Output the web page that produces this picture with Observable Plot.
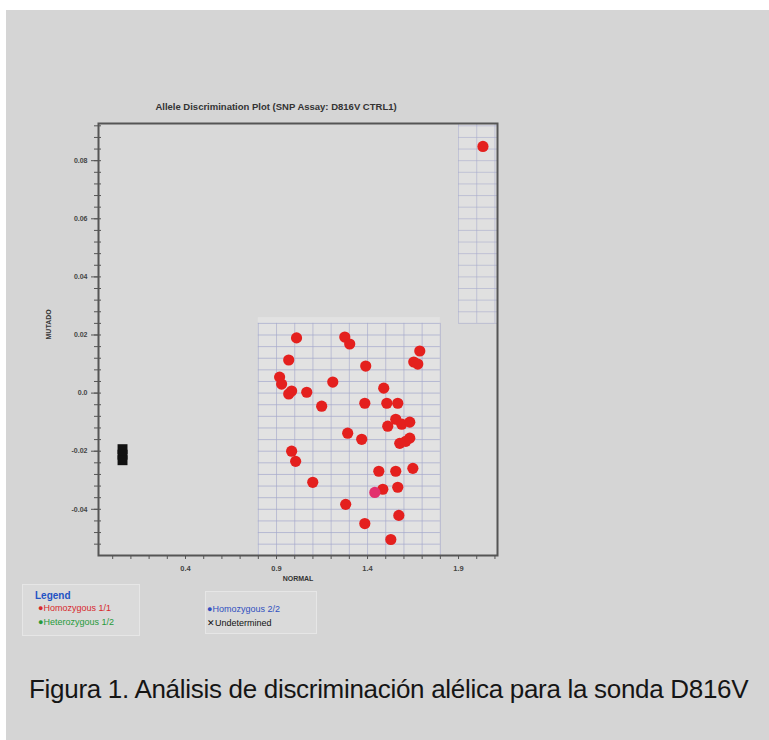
<!DOCTYPE html>
<html><head><meta charset="utf-8">
<script src="https://cdn.jsdelivr.net/npm/d3@7"></script>
<script src="https://cdn.jsdelivr.net/npm/@observablehq/plot@0.6"></script>
<style>
body{margin:0;background:#fff;width:769px;height:740px;overflow:hidden;position:relative;font-family:"Liberation Sans",Arial,sans-serif}
#bg{position:absolute;left:6px;top:10px;width:763px;height:730px;background:#d5d5d5}
#chart{position:absolute;left:0;top:0}
.lgbox{position:absolute;background:#dadada;border:1px solid #e6e6e6}
.lg{position:absolute;font-size:9px;white-space:nowrap;line-height:1}
#caption{position:absolute;left:29px;top:674px;font-size:26px;color:#151515;white-space:nowrap;letter-spacing:-0.3px}
</style></head>
<body>
<div id="bg"></div>
<div id="chart"></div>
<div class="lgbox" style="left:22px;top:584px;width:116px;height:50px"></div>
<div class="lgbox" style="left:205px;top:591px;width:110px;height:41px"></div>
<div class="lg" style="left:35px;top:591px;font-size:10px;font-weight:bold;color:#2353c4">Legend</div>
<div class="lg" style="left:38px;top:604px;color:#d8282c">&#9679;Homozygous 1/1</div>
<div class="lg" style="left:38px;top:618px;color:#279a3a">&#9679;Heterozygous 1/2</div>
<div class="lg" style="left:207px;top:605px;color:#3050c0">&#9679;Homozygous 2/2</div>
<div class="lg" style="left:207px;top:619px;color:#111">&#10005;Undetermined</div>
<div id="caption">Figura 1. Análisis de discriminación alélica para la sonda D816V</div>
<script>
// Allele 1/1 (red) calls: NORMAL (x) and MUTADO (y)
const hom11X = [1.010,1.275,1.302,1.687,1.654,1.676,0.967,1.390,0.917,0.928,1.209,0.983,0.967,1.066,1.489,1.148,1.385,1.506,1.566,1.555,1.588,1.632,1.511,1.291,1.368,1.632,1.610,1.577,0.983,1.005,1.462,1.555,1.649,1.099,1.566,1.484,1.280,1.572,1.385,1.528,2.034];
const hom11Y = [0.0190,0.0193,0.0169,0.0145,0.0107,0.0100,0.0114,0.0093,0.0055,0.0031,0.0038,0.0007,-0.0003,0.0003,0.0017,-0.0045,-0.0035,-0.0035,-0.0035,-0.0090,-0.0107,-0.0100,-0.0114,-0.0138,-0.0159,-0.0155,-0.0166,-0.0173,-0.0200,-0.0235,-0.0269,-0.0269,-0.0259,-0.0307,-0.0324,-0.0331,-0.0383,-0.0421,-0.0449,-0.0504,0.0849];
// one highlighted (pink) well
const selX = [1.440];
const selY = [-0.0342];
// undetermined / no-template controls (black block)
const undX = [0.054,0.054,0.054];
const undY = [-0.0193,-0.0212,-0.0231];

const xTicks = [0.4,0.9,1.4,1.9];
const xTickLabels = ["0.4","0.9","1.4","1.9"];
const yTicks = [0.08,0.06,0.04,0.02,0,-0.02,-0.04];
const yTickLabels = ["0.08","0.06","0.04","0.02","0.0","-0.02","-0.04"];
const xDomain = [-0.078, 2.114];
const yDomain = [-0.0559, 0.0928];

// lighter scanned grid panels
const lowerPanel = {x1:0.8, x2:1.8, y1:-0.0559, y2:0.026};
const upperPanel = {x1:1.9, x2:2.114, y1:0.024, y2:0.0928};

const lowerGridX = d3.range(8,19).map(i=>i/10);
const lowerGridY = d3.range(-13,7).map(i=>i*0.004);
const upperGridX = [1.9,2.0,2.1];
const upperGridY = d3.range(6,24).map(i=>i*0.004);
const yMinor = d3.range(-13,24).map(i=>i*0.004);
const xMinor = d3.range(0,22).map(i=>i/10);

const pts = hom11X.map((x,i)=>({x, y:hom11Y[i]}));
const sel = selX.map((x,i)=>({x, y:selY[i]}));
const und = undX.map((x,i)=>({x, y:undY[i]}));

const gridStroke = "#a5a9cb";
const chart = Plot.plot({
  width:769, height:640,
  marginLeft:98, marginRight:272, marginTop:123, marginBottom:85,
  style:{background:"transparent", fontFamily:"Liberation Sans, Arial, sans-serif", overflow:"visible"},
  x:{domain:xDomain},
  y:{domain:yDomain},
  marks:[
    Plot.frame({fill:"#d9d9d9"}),
    Plot.rect([lowerPanel],{x1:"x1",x2:"x2",y1:"y1",y2:"y2",fill:"#e2e2e2"}),
    Plot.rect([upperPanel],{x1:"x1",x2:"x2",y1:"y1",y2:"y2",fill:"#e0e0e0"}),
    Plot.ruleX(lowerGridX,{y1:lowerPanel.y1,y2:lowerGridY[lowerGridY.length-1],stroke:gridStroke,strokeWidth:0.8,strokeOpacity:0.8}),
    Plot.ruleY(lowerGridY,{x1:lowerPanel.x1,x2:lowerPanel.x2,stroke:gridStroke,strokeWidth:0.8,strokeOpacity:0.9}),
    Plot.ruleX(upperGridX,{y1:upperPanel.y1,y2:upperPanel.y2,stroke:gridStroke,strokeWidth:0.8,strokeOpacity:0.7}),
    Plot.ruleY(upperGridY,{x1:upperPanel.x1,x2:upperPanel.x2,stroke:gridStroke,strokeWidth:0.8,strokeOpacity:0.7}),
    Plot.axisY(yMinor,{tickSize:4,tickFormat:null,text:null,stroke:"#555"}),
    Plot.axisY(yMinor,{anchor:"left",tickSize:-3,tickFormat:null,text:null,stroke:"#555"}),
    Plot.axisY(yTicks,{tickSize:7,tickPadding:4,tickFormat:d=>yTickLabels[yTicks.indexOf(d)],fontSize:7,fontWeight:"bold",fill:"#444",stroke:"#555",label:null}),
    Plot.axisX(xMinor,{tickSize:4,tickFormat:null,text:null,stroke:"#555"}),
    Plot.axisX(xTicks,{tickSize:0,tickPadding:10,tickFormat:d=>xTickLabels[xTicks.indexOf(d)],fontSize:7.5,fontWeight:"bold",fill:"#444",label:null}),
    Plot.frame({stroke:"#555",strokeWidth:2}),
    Plot.text(["MUTADO"],{frameAnchor:"left",dx:-50,rotate:-90,fontSize:7,fontWeight:"bold",fill:"#333"}),
    Plot.text(["NORMAL"],{frameAnchor:"bottom",dy:25,fontSize:7,fontWeight:"bold",fill:"#333"}),
    Plot.text(["Allele Discrimination Plot (SNP Assay: D816V CTRL1)"],{frameAnchor:"top",dy:-20,dx:-22,fontSize:9.5,fontWeight:"bold",fill:"#333"}),
    Plot.dot(und,{x:"x",y:"y",symbol:"square",r:5.6,fill:"#111"}),
    Plot.dot(pts,{x:"x",y:"y",r:5.6,fill:"#e4201e"}),
    Plot.dot(sel,{x:"x",y:"y",r:5.6,fill:"#e2306e"})
  ]
});
document.getElementById("chart").appendChild(chart);
</script>
</body></html>
